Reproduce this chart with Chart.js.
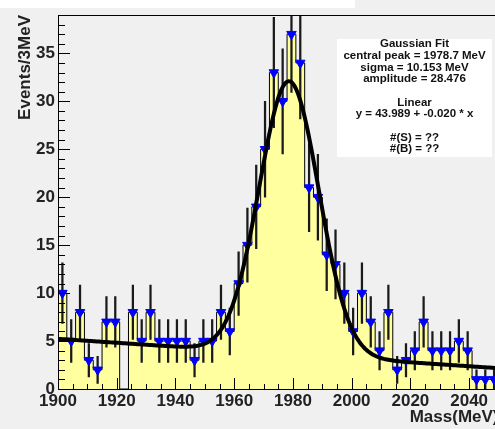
<!DOCTYPE html>
<html>
<head>
<meta charset="utf-8">
<script src="https://cdn.jsdelivr.net/npm/chart.js@4/dist/chart.umd.min.js"></script>
<style>
  html, body { margin: 0; padding: 0; overflow: hidden; background: #f0f0f0; }
  #wrap { position: relative; width: 505px; height: 429px; }
</style>
</head>
<body>
<div id="wrap"><canvas id="massChart" width="505" height="429"></canvas></div>
<script>
// 3 MeV bins starting at 1900 MeV
const binLow = 1900;
const binWidth = 3;
const counts = [10,5,8,3,2,7,7,0,8,5, 8,5,5,5,5,3,5,5,8,6,
                11,15,19,25,33,30,37,34,21,20, 14,13,10,6,10,7,4,8,2,3,
                4,7,4,4,4,5,4,1,1,1];
const xTickValues = [1900,1920,1940,1960,1980,2000,2020,2040];
const yTickValues = [0,5,10,15,20,25,30,35];

// fit result: gaussian peak on a linear background
const peakMean = 1978.7;
const peakSigma = 10.153;
const peakAmp = 28.476;
const bkgA = 43.989;
const bkgB = -0.0204;

const xMax = binLow + counts.length * binWidth;
const yMax = 39;

const fitLines = [
  'Gaussian Fit',
  'central peak = ' + peakMean.toFixed(1) + ' MeV',
  'sigma = ' + peakSigma.toFixed(3) + ' MeV',
  'amplitude = ' + peakAmp.toFixed(3),
  '',
  'Linear',
  'y = ' + bkgA.toFixed(3) + ' + ' + bkgB.toFixed(3) + ' * x',
  '',
  '#(S) = ??',
  '#(B) = ??'
];

function fitValue(m) {
  const d = (m - peakMean) / peakSigma;
  return peakAmp * Math.exp(-0.5 * d * d) + bkgA + bkgB * m;
}

const histStep = counts.map((c, i) => ({x: binLow + i * binWidth, y: c}));
histStep.push({x: xMax, y: counts[counts.length - 1]});

const centers = [];
const errBars = [];
counts.forEach((c, i) => {
  if (c <= 0) return;
  const m = binLow + (i + 0.5) * binWidth;
  centers.push({x: m, y: c});
  errBars.push({x: m, y: [c - Math.sqrt(c), c + Math.sqrt(c)]});
});

const fitCurve = [];
for (let m = binLow; m <= xMax; m += 0.5) fitCurve.push({x: m, y: fitValue(m)});

const labelFont = {family: 'Liberation Sans, Arial, sans-serif', size: 17, weight: 'bold'};

// ROOT-style frame: inward ticks, fit parameter box, title strip
const rootFrame = {
  id: 'rootFrame',
  afterDatasetsDraw(chart) {
    const {ctx, chartArea: a, scales: {x, y}} = chart;
    ctx.save();
    ctx.strokeStyle = '#000';
    ctx.lineWidth = 1;
    ctx.beginPath();
    ctx.moveTo(a.left + 0.5, a.bottom + 0.5);
    ctx.lineTo(a.left + 0.5, a.top + 0.5);
    ctx.lineTo(a.right, a.top + 0.5);
    ctx.moveTo(a.left, a.bottom + 0.5);
    ctx.lineTo(a.right, a.bottom + 0.5);
    for (let v = 0; v <= yMax; v++) {
      const py = Math.round(y.getPixelForValue(v)) + 0.5;
      const len = v % 5 === 0 ? 12 : 7;
      ctx.moveTo(a.left, py);
      ctx.lineTo(a.left + len, py);
    }
    for (let v = binLow; v <= xMax; v += 5) {
      const px = Math.round(x.getPixelForValue(v)) + 0.5;
      const len = (v - binLow) % 20 === 0 ? 11 : 5;
      ctx.moveTo(px, a.bottom);
      ctx.lineTo(px, a.bottom - len);
    }
    ctx.stroke();
    ctx.restore();
  },
  afterDraw(chart) {
    const ctx = chart.ctx;
    ctx.save();
    ctx.fillStyle = '#fff';
    ctx.fillRect(337, 39, 155, 118);
    ctx.fillRect(0, 0, 355, 8);
    ctx.fillStyle = '#111';
    ctx.font = 'bold 11.5px "Liberation Sans", Arial, sans-serif';
    ctx.textAlign = 'center';
    ctx.textBaseline = 'middle';
    fitLines.forEach((t, i) => ctx.fillText(t, 414.5, 44 + i * 11.7));
    ctx.restore();
  }
};

new Chart(document.getElementById('massChart'), {
  type: 'scatter',
  data: {
    datasets: [{
      type: 'line',
      data: histStep,
      stepped: 'before',
      borderColor: '#000',
      borderWidth: 1,
      backgroundColor: '#ffffa0',
      fill: 'origin',
      pointRadius: 0,
      order: 4
    }, {
      type: 'bar',
      data: errBars,
      backgroundColor: '#1a1a1a',
      barThickness: 1.6,
      grouped: false,
      order: 3
    }, {
      data: centers,
      pointStyle: 'triangle',
      rotation: 180,
      radius: 5.5,
      backgroundColor: '#0000ff',
      borderColor: '#0000ff',
      borderWidth: 1,
      order: 2
    }, {
      type: 'line',
      data: fitCurve,
      borderColor: '#000',
      borderWidth: 4,
      pointRadius: 0,
      tension: 0,
      fill: false,
      order: 1
    }]
  },
  options: {
    responsive: false,
    animation: false,
    layout: {padding: {top: 15, right: 4, left: 0, bottom: 0}},
    plugins: {legend: {display: false}, tooltip: {enabled: false}},
    scales: {
      x: {
        type: 'linear',
        min: binLow,
        max: xMax,
        offset: false,
        grid: {display: false, drawTicks: false},
        border: {display: false},
        afterBuildTicks: s => { s.ticks = xTickValues.map(v => ({value: v})); },
        afterFit: s => { s.height = 40; },
        ticks: {font: labelFont, color: '#222', padding: 2, maxRotation: 0, autoSkip: false, callback: v => String(v)},
        title: {display: true, text: 'Mass(MeV)', align: 'end', font: labelFont, color: '#222', padding: {top: 0, bottom: 1}}
      },
      y: {
        type: 'linear',
        min: 0,
        max: yMax,
        grid: {display: false, drawTicks: false},
        border: {display: false},
        afterBuildTicks: s => { s.ticks = yTickValues.map(v => ({value: v})); },
        afterFit: s => { s.width = 58; },
        ticks: {font: labelFont, color: '#222', padding: 3, callback: v => String(v)},
        title: {display: true, text: 'Events/3MeV', align: 'end', font: labelFont, color: '#222', padding: {top: 15, bottom: 0}}
      }
    }
  },
  plugins: [rootFrame]
});
</script>
</body>
</html>
